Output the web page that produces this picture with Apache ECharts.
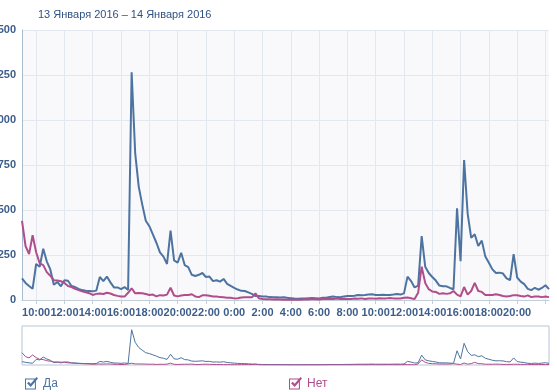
<!DOCTYPE html>
<html>
<head>
<meta charset="utf-8">
<script src="https://cdn.jsdelivr.net/npm/echarts@6/dist/echarts.min.js"></script>
<style>
html,body{margin:0;padding:0;background:#ffffff;}
#c{width:557px;height:392px;}
</style>
</head>
<body>
<div id="c"></div>
<script>
// ---- data (15-minute samples from 13 Jan 2016 9:00) ----
const titleText = '13 Января 2016 – 14 Января 2016';
const seriesNames = ['Да', 'Нет'];
const startHour = 9;
const stepMinutes = 15;

const yesValues = [
  120, 95, 78, 62, 200, 185, 285, 215, 170, 85,
  100, 76, 110, 107, 78, 72, 62, 55, 52, 50,
  48, 52, 128, 105, 130, 98, 70, 70, 60, 72,
  56, 1265, 816, 630, 530, 440, 410, 365, 318, 265,
  241, 200, 385, 220, 207, 262, 194, 183, 140, 133,
  140, 150, 128, 130, 105, 110, 102, 117, 90, 78,
  67, 58, 51, 50, 42, 34, 22, 22, 19, 19,
  16, 15, 15, 14, 15, 12, 10, 8, 7, 8,
  9, 10, 11, 10, 9, 12, 13, 17, 19, 16,
  15, 20, 22, 22, 24, 28, 27, 28, 30, 32,
  28, 28, 29, 28, 28, 30, 33, 30, 37, 130,
  105, 70, 80, 355, 185, 150, 128, 108, 80, 76,
  76, 67, 60, 510, 215, 778, 480, 345, 365, 300,
  330, 241, 207, 170, 150, 152, 147, 120, 110, 255,
  125, 102, 88, 62, 55, 68, 57, 67, 82, 60
];

const noValues = [
  440, 300, 255, 360, 265, 204, 194, 155, 135, 110,
  108, 104, 95, 78, 72, 62, 55, 48, 43, 38,
  28, 34, 36, 33, 40, 36, 28, 23, 19, 19,
  40, 65, 37, 39, 37, 33, 28, 30, 20, 27,
  25, 30, 68, 25, 20, 25, 28, 28, 32, 20,
  16, 26, 27, 24, 20, 19, 16, 15, 13, 12,
  9, 10, 14, 15, 15, 15, 37, 9, 5, 4,
  4, 3, 4, 3, 2, 3, 1, 2, 3, 2,
  4, 3, 5, 4, 3, 6, 5, 7, 6, 8,
  6, 7, 5, 6, 8, 7, 9, 6, 8, 9,
  7, 10, 8, 9, 11, 9, 8, 8, 12, 14,
  10, 5, 40, 185, 95, 60, 47, 45, 34, 37,
  34, 37, 50, 30, 20, 72, 30, 50, 95, 50,
  45, 28, 28, 28, 32, 28, 22, 20, 22, 27,
  26, 22, 19, 26, 16, 20, 20, 16, 19, 16
];

const yTickValues = [0, 250, 500, 750, 1000, 1250, 1500];

// time categories
const categories = yesValues.map(function (_, i) {
  const m = startHour * 60 + i * stepMinutes;
  const h = Math.floor(m / 60) % 24;
  const mm = m % 60;
  return h + ':' + (mm < 10 ? '0' + mm : '' + mm);
});
// grid ticks: every even full hour
function isGridTick(i) {
  return categories[i].slice(-3) === ':00' && (parseInt(categories[i], 10) % 2 === 0);
}
// labels: same, but the last one would overflow the chart edge and is dropped
function isLabelTick(i) {
  return isGridTick(i) && i < categories.length - 8;
}

const FONT = '"Liberation Sans", Arial, sans-serif';
const BLUE = '#4d74a0';
const PINK = '#b04d8b';
const LABEL = '#3d5e8a';
const GRID = '#e3e7ef';
const checkIcon = 'path://M0,3H21V24H0Z M2,5V22H19V5Z M4,12L7,9L11,13L22,0L25,3L11,19Z';

const chart = echarts.init(document.getElementById('c'), null, { renderer: 'canvas' });

chart.setOption({
  animation: false,
  backgroundColor: '#ffffff',
  title: {
    text: titleText,
    left: 33, top: 4,
    textStyle: { fontFamily: FONT, fontSize: 11, fontWeight: 'normal', color: '#2f5183' }
  },
  legend: [
    {
      data: [seriesNames[0]], left: 25, top: 377, padding: 0,
      icon: checkIcon, itemWidth: 13, itemHeight: 13, itemGap: 0,
      textStyle: { fontFamily: FONT, fontSize: 12, color: BLUE }
    },
    {
      data: [seriesNames[1]], left: 289, top: 377, padding: 0,
      icon: checkIcon, itemWidth: 13, itemHeight: 13, itemGap: 0,
      textStyle: { fontFamily: FONT, fontSize: 12, color: PINK }
    }
  ],
  grid: [
    { left: 22, right: 8, top: 30, height: 270, show: true, backgroundColor: '#f9f9fb', borderWidth: 0, containLabel: false, outerBoundsMode: 'none' },
    { left: 22, right: 8, top: 326, height: 39, show: true, backgroundColor: '#ffffff', borderColor: '#b7c5d7', borderWidth: 1, containLabel: false, outerBoundsMode: 'none' }
  ],
  xAxis: [
    {
      type: 'category', gridIndex: 0, data: categories, boundaryGap: false,
      axisLine: { show: true, lineStyle: { color: '#c3cedb', width: 1 } },
      axisTick: { show: true, interval: function (i) { return isGridTick(i); }, length: 4, lineStyle: { color: '#c3cedb' } },
      axisLabel: {
        interval: function (i) { return isLabelTick(i); }, hideOverlap: false,
        margin: 7, fontFamily: FONT, fontSize: 11, fontWeight: 'bold', color: LABEL
      },
      splitLine: { show: true, interval: function (i) { return isGridTick(i); }, lineStyle: { color: GRID, width: 1 } }
    },
    { type: 'category', gridIndex: 1, data: categories, boundaryGap: false, show: false }
  ],
  yAxis: [
    {
      type: 'value', gridIndex: 0, min: yTickValues[0], max: yTickValues[yTickValues.length - 1], interval: 250,
      axisLine: { show: true, lineStyle: { color: '#a8bace', width: 1 } },
      axisTick: { show: false },
      axisLabel: { margin: 6, fontFamily: FONT, fontSize: 11, fontWeight: 'bold', color: LABEL, hideOverlap: false,
        formatter: function (v) { return String(v); } },
      splitLine: { show: true, lineStyle: { color: GRID, width: 1 } }
    },
    { type: 'value', gridIndex: 1, min: 0, max: 1400, show: false, splitLine: { show: false } }
  ],
  series: [
    {
      name: seriesNames[0], type: 'line', xAxisIndex: 0, yAxisIndex: 0, data: yesValues,
      showSymbol: false, symbol: 'none', lineStyle: { width: 2, color: BLUE }, itemStyle: { color: BLUE }
    },
    {
      name: seriesNames[1], type: 'line', xAxisIndex: 0, yAxisIndex: 0, data: noValues,
      showSymbol: false, symbol: 'none', lineStyle: { width: 2, color: PINK }, itemStyle: { color: PINK }
    },
    {
      name: seriesNames[0], type: 'line', xAxisIndex: 1, yAxisIndex: 1, data: yesValues, silent: true,
      showSymbol: false, symbol: 'none', lineStyle: { width: 1, color: BLUE }, itemStyle: { color: BLUE }
    },
    {
      name: seriesNames[1], type: 'line', xAxisIndex: 1, yAxisIndex: 1, data: noValues, silent: true,
      showSymbol: false, symbol: 'none', lineStyle: { width: 1, color: PINK }, itemStyle: { color: PINK }
    }
  ]
});
</script>
</body>
</html>
